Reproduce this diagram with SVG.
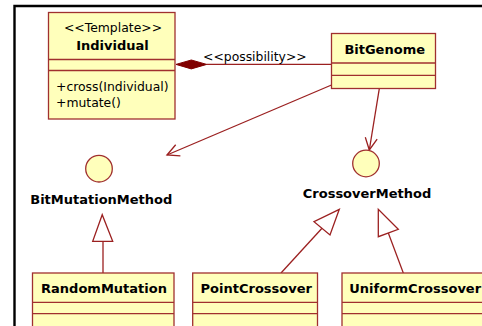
<svg xmlns="http://www.w3.org/2000/svg" width="482" height="326" viewBox="0 0 482 326">
<style>
.box{fill:#FFFFBB;stroke:#A0302F;stroke-width:1.3}
.div{stroke:#A0302F;stroke-width:1.3;fill:none}
.iface{fill:#FFFFBB;stroke:#A0302F;stroke-width:1.3}
.ln{stroke:#9B2020;stroke-width:1.3;fill:none}
.tri{fill:#FFFFFF;stroke:#9B2020;stroke-width:1.3}
.b{font-family:"DejaVu Sans",Verdana,sans-serif;font-weight:bold;font-size:13px;fill:#000}
.n{font-family:"DejaVu Sans",Verdana,sans-serif;font-size:12.4px;fill:#000}
</style>
<defs>
<marker id="open" markerUnits="userSpaceOnUse" markerWidth="14" markerHeight="12" refX="12" refY="6" orient="auto" overflow="visible">
<path d="M0,0 L12,6 L0,12" fill="none" stroke="#9B2020" stroke-width="1.3"/>
</marker>
</defs>
<rect width="482" height="326" fill="#FFFFFF"/>
<path d="M14.5,326 V6 H482" fill="none" stroke="#000" stroke-width="2.4"/>

<g id="connectors">
<line class="ln" x1="206.7" y1="64.4" x2="331.5" y2="64.4"/>
<polygon points="176,64.4 191.3,60 206.7,64.4 191.3,68.9" fill="#800000" stroke="#800000" stroke-width="1"/>
<text class="n" x="203" y="61">&lt;&lt;possibility&gt;&gt;</text>
<line class="ln" x1="331.5" y1="85" x2="167" y2="155" marker-end="url(#open)"/>
<line class="ln" x1="379.3" y1="88.7" x2="369.3" y2="150" marker-end="url(#open)"/>
<line class="ln" x1="103" y1="273" x2="103" y2="241.3"/>
<polygon class="tri" points="102.2,214.7 92.7,241.3 112.7,241.3"/>
<line class="ln" x1="281" y1="273" x2="322" y2="228.3"/>
<polygon class="tri" points="339.3,209.3 314,221.7 330,235"/>
<line class="ln" x1="403.3" y1="273" x2="388.3" y2="233"/>
<polygon class="tri" points="378.3,209.3 378.3,236.7 398.3,229.3"/>
</g>

<g id="Individual">
<rect class="box" x="48.5" y="12.5" width="126.5" height="106.5"/>
<line class="div" x1="48.5" y1="59.5" x2="175" y2="59.5"/>
<line class="div" x1="48.5" y1="70.5" x2="175" y2="70.5"/>
<text class="n" x="113" y="32" text-anchor="middle">&lt;&lt;Template&gt;&gt;</text>
<text class="b" x="112.5" y="50" text-anchor="middle">Individual</text>
<text class="n" x="56" y="90.5">+cross(Individual)</text>
<text class="n" x="56" y="106.5">+mutate()</text>
</g>

<g id="BitGenome">
<rect class="box" x="331.5" y="33.5" width="104" height="55"/>
<line class="div" x1="331.5" y1="63" x2="435.5" y2="63"/>
<line class="div" x1="331.5" y1="75.3" x2="435.5" y2="75.3"/>
<text class="b" x="384.7" y="54" text-anchor="middle">BitGenome</text>
</g>

<g id="BitMutationMethod">
<circle class="iface" cx="99" cy="168.7" r="13.3"/>
<text class="b" x="101.3" y="203.5" text-anchor="middle">BitMutationMethod</text>
</g>

<g id="CrossoverMethod">
<circle class="iface" cx="366" cy="163.5" r="13.3"/>
<text class="b" x="367" y="198.3" text-anchor="middle">CrossoverMethod</text>
</g>

<g id="RandomMutation">
<rect class="box" x="32.5" y="273" width="141.5" height="70"/>
<line class="div" x1="32.5" y1="302.4" x2="174" y2="302.4"/>
<line class="div" x1="32.5" y1="313.6" x2="174" y2="313.6"/>
<text class="b" x="104" y="293" text-anchor="middle">RandomMutation</text>
</g>

<g id="PointCrossover">
<rect class="box" x="192.7" y="273" width="124.8" height="70"/>
<line class="div" x1="192.7" y1="302.4" x2="317.5" y2="302.4"/>
<line class="div" x1="192.7" y1="313.6" x2="317.5" y2="313.6"/>
<text class="b" x="256.3" y="293" text-anchor="middle">PointCrossover</text>
</g>

<g id="UniformCrossover">
<rect class="box" x="342" y="273" width="160" height="70"/>
<line class="div" x1="342" y1="302.4" x2="502" y2="302.4"/>
<line class="div" x1="342" y1="313.6" x2="502" y2="313.6"/>
<text class="b" x="349.3" y="293">UniformCrossover</text>
</g>
</svg>
